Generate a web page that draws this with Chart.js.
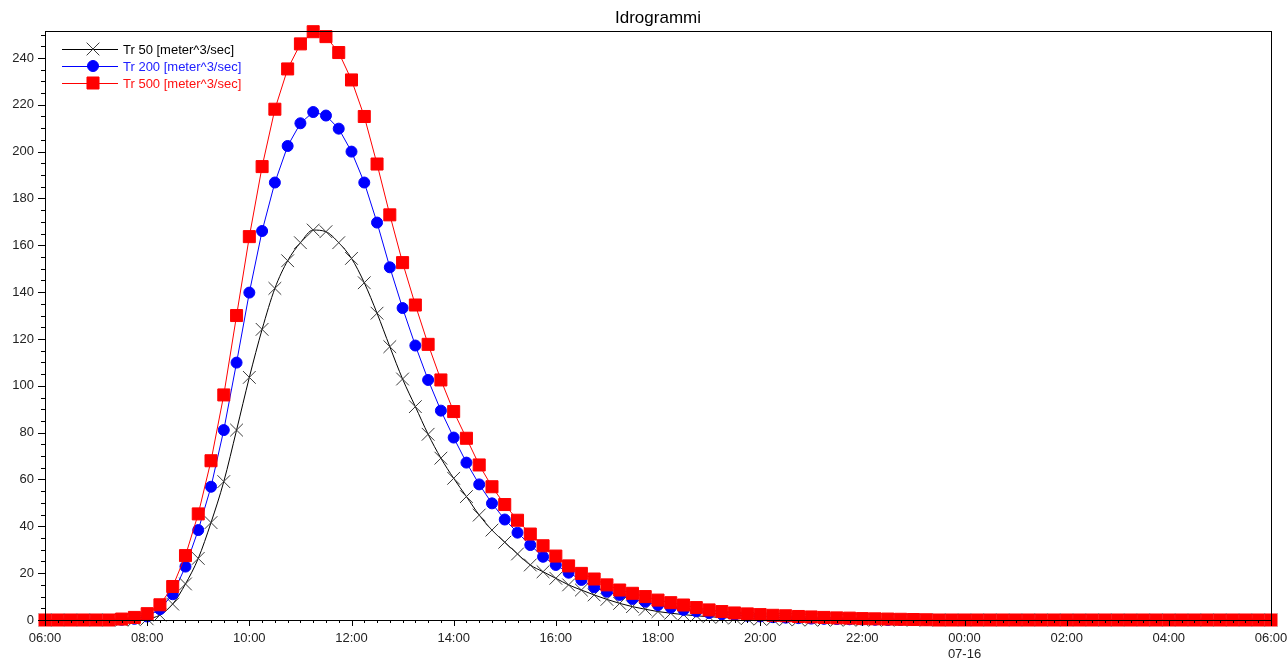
<!DOCTYPE html>
<html>
<head>
<meta charset="utf-8">
<script src="https://cdn.jsdelivr.net/npm/chart.js@4.4.1/dist/chart.umd.min.js"></script>
<style>
  html, body { margin: 0; padding: 0; background: #fff; }
  #wrap { width: 1287px; height: 660px; }
</style>
</head>
<body>
<div id="wrap"><canvas id="idroChart" width="1287" height="660"></canvas></div>
<script>
// 15-minute steps from 06:00 to 06:00 of the next day
const startHour = 6;
const stepMinutes = 15;
const nSteps = 97;
const nextDayLabel = '07-16';

const times = [];
for (let i = 0; i < nSteps; i++) {
    const m = startHour * 60 + i * stepMinutes;
    const h = Math.floor(m / 60) % 24;
    const mm = m % 60;
    times.push(String(h).padStart(2, '0') + ':' + String(mm).padStart(2, '0'));
}

// discharge values [meter^3/sec]
const tr50 = [0, 0, 0, 0, 0, 0, 0, 0.1, 0.5, 2.1, 6.8, 15.4, 26.3, 41.6, 59.1, 81.1,
    103.6, 124.1, 141.6, 153.4, 161.1, 166.5, 165.8, 161.1, 154.4, 144, 131, 116.7, 102.9, 91.1, 79.3, 69.1,
    60.5, 52.7, 44.8, 38.4, 33.2, 28.2, 23.5, 20.6, 17.8, 15, 12.8, 10.7, 8.8, 7.1, 5.7, 4.6,
    3.6, 2.9, 2.3, 1.8, 1.4, 1.1, 0.8, 0.6, 0.4, 0.3, 0.2, 0.1, 0, 0, 0, 0,
    0, 0, 0, 0, 0, 0, 0, 0, 0, 0, 0, 0, 0, 0, 0, 0,
    0, 0, 0, 0, 0, 0, 0, 0, 0, 0, 0, 0, 0, 0, 0, 0, 0];

const tr200 = [0, 0, 0, 0, 0, 0, 0.1, 0.5, 1.5, 4.6, 11, 22.8, 38.4, 56.9, 81.1, 109.9,
    139.8, 166.1, 186.8, 202.4, 212.1, 216.9, 215.4, 209.8, 200, 186.8, 169.7, 150.6, 133.2, 117.2, 102.5, 89.4,
    77.9, 67.2, 57.9, 49.8, 42.9, 37.3, 32, 27, 23.5, 20.2, 17.1, 14, 12.1, 10.7, 9, 7.8,
    6.4, 5.3, 4.3, 3.7, 3.0, 2.5, 2.1, 1.8, 1.5, 1.2, 1.0, 0.8, 0.6, 0.5, 0.4, 0.3,
    0.2, 0.1, 0, 0, 0, 0, 0, 0, 0, 0, 0, 0, 0, 0, 0, 0,
    0, 0, 0, 0, 0, 0, 0, 0, 0, 0, 0, 0, 0, 0, 0, 0, 0];

const tr500 = [0, 0, 0, 0, 0, 0, 0.4, 1.1, 2.7, 6.5, 14.3, 27.5, 45.3, 68, 96.1, 130,
    163.7, 193.6, 218.1, 235.3, 246, 251.2, 249.1, 242.3, 230.6, 215, 194.7, 173, 152.6, 134.5, 117.7, 102.5,
    89, 77.6, 66.2, 56.9, 49.3, 42.6, 36.7, 31.7, 27.3, 23.1, 19.9, 17.5, 15, 12.8, 11.4, 10,
    8.5, 7.4, 6.4, 5.3, 4.3, 3.6, 3.0, 2.6, 2.3, 2.0, 1.8, 1.5, 1.3, 1.1, 0.9, 0.8,
    0.6, 0.5, 0.4, 0.3, 0.2, 0.1, 0, 0, 0, 0, 0, 0, 0, 0, 0, 0,
    0, 0, 0, 0, 0, 0, 0, 0, 0, 0, 0, 0, 0, 0, 0, 0, 0];

const yMax = 251.5;
const yLabelStep = 20;
const yMinorStep = 5;

const FONT = '"Liberation Sans", Arial, sans-serif';

// frame, minor/major ticks, title and legend
const decorations = {
    id: 'decorations',
    afterDraw(chart) {
        const ctx = chart.ctx;
        const a = chart.chartArea;
        const xs = chart.scales.x;
        const ys = chart.scales.y;
        ctx.save();
        ctx.strokeStyle = '#000';
        ctx.lineWidth = 1;
        ctx.strokeRect(Math.round(a.left) + 0.5, Math.round(a.top) + 0.5,
            Math.round(a.right - a.left), Math.round(a.bottom - a.top));

        ctx.beginPath();
        for (let i = 0; i < times.length; i++) {
            const px = Math.round(xs.getPixelForValue(i)) + 0.5;
            const len = (i % 8 === 0) ? 6 : 3;
            ctx.moveTo(px, a.bottom);
            ctx.lineTo(px, a.bottom + len);
        }
        for (let v = 0; v <= yMax; v += yMinorStep) {
            const py = Math.round(ys.getPixelForValue(v)) + 0.5;
            const len = (v % yLabelStep === 0) ? 7 : 4;
            ctx.moveTo(a.left, py);
            ctx.lineTo(a.left - len, py);
        }
        ctx.stroke();

        // title
        ctx.fillStyle = '#000';
        ctx.font = '17px ' + FONT;
        ctx.textAlign = 'center';
        ctx.textBaseline = 'middle';
        ctx.fillText('Idrogrammi', (a.left + a.right) / 2, 18);

        // legend: line + marker + coloured text
        ctx.font = '13px ' + FONT;
        ctx.textAlign = 'left';
        chart.data.datasets.forEach(function (ds, k) {
            const y = 49 + k * 17;
            ctx.strokeStyle = ds.borderColor;
            ctx.lineWidth = 1;
            ctx.beginPath();
            ctx.moveTo(62, y + 0.5);
            ctx.lineTo(118, y + 0.5);
            ctx.stroke();

            ctx.fillStyle = ds.pointBackgroundColor || 'rgba(0,0,0,0)';
            ctx.strokeStyle = ds.pointBorderColor;
            ctx.lineWidth = ds.pointBorderWidth;
            Chart.helpers.drawPoint(ctx, {
                pointStyle: ds.pointStyle,
                rotation: 0,
                radius: ds.pointRadius,
                borderWidth: ds.pointBorderWidth
            }, 93, y);

            ctx.fillStyle = ds.legendColor;
            ctx.fillText(ds.label, 123, y + 1);
        });
        ctx.restore();
    }
};

new Chart(document.getElementById('idroChart').getContext('2d'), {
    type: 'line',
    data: {
        labels: times,
        datasets: [
            {
                label: 'Tr 50 [meter^3/sec]',
                data: tr50,
                borderColor: '#000000',
                borderWidth: 1,
                pointStyle: 'crossRot',
                pointRadius: 9,
                pointBorderColor: '#3a3a3a',
                pointBorderWidth: 1,
                cubicInterpolationMode: 'monotone',
                legendColor: '#000000',
                order: 3
            },
            {
                label: 'Tr 200 [meter^3/sec]',
                data: tr200,
                borderColor: '#0000ff',
                borderWidth: 1,
                pointStyle: 'circle',
                pointRadius: 5.5,
                pointBackgroundColor: '#0000ff',
                pointBorderColor: '#0000ff',
                pointBorderWidth: 1,
                tension: 0,
                legendColor: '#2020ff',
                order: 2
            },
            {
                label: 'Tr 500 [meter^3/sec]',
                data: tr500,
                borderColor: '#ff0000',
                borderWidth: 1,
                pointStyle: 'rect',
                pointRadius: 8.5,
                pointBackgroundColor: '#ff0000',
                pointBorderColor: '#ff0000',
                pointBorderWidth: 1,
                tension: 0,
                legendColor: '#ff1010',
                order: 1
            }
        ]
    },
    options: {
        responsive: false,
        animation: false,
        clip: false,
        layout: { padding: { top: 31, right: 16, left: 0, bottom: 0 } },
        plugins: {
            legend: { display: false },
            title: { display: false },
            tooltip: { enabled: false }
        },
        scales: {
            x: {
                type: 'category',
                offset: false,
                grid: { display: false, drawTicks: false },
                border: { display: true, color: '#000' },
                ticks: {
                    autoSkip: false,
                    maxRotation: 0,
                    minRotation: 0,
                    padding: 11,
                    color: '#222',
                    font: { family: FONT, size: 13 },
                    callback: function (value, index) {
                        if (index % 8 !== 0) return '';
                        const lab = times[index];
                        if (lab === '00:00') return [lab, nextDayLabel];
                        return lab;
                    }
                },
                afterFit: function (scale) {
                    scale.height = 40;
                    scale.paddingLeft = 0;
                    scale.paddingRight = 0;
                }
            },
            y: {
                min: 0,
                max: yMax,
                grid: { display: false, drawTicks: false },
                border: { display: true, color: '#000' },
                ticks: {
                    stepSize: yLabelStep,
                    includeBounds: false,
                    padding: 11,
                    color: '#222',
                    font: { family: FONT, size: 13 }
                },
                afterFit: function (scale) {
                    scale.width = 45;
                    scale.paddingTop = 0;
                    scale.paddingBottom = 0;
                }
            }
        }
    },
    plugins: [decorations]
});
</script>
</body>
</html>
